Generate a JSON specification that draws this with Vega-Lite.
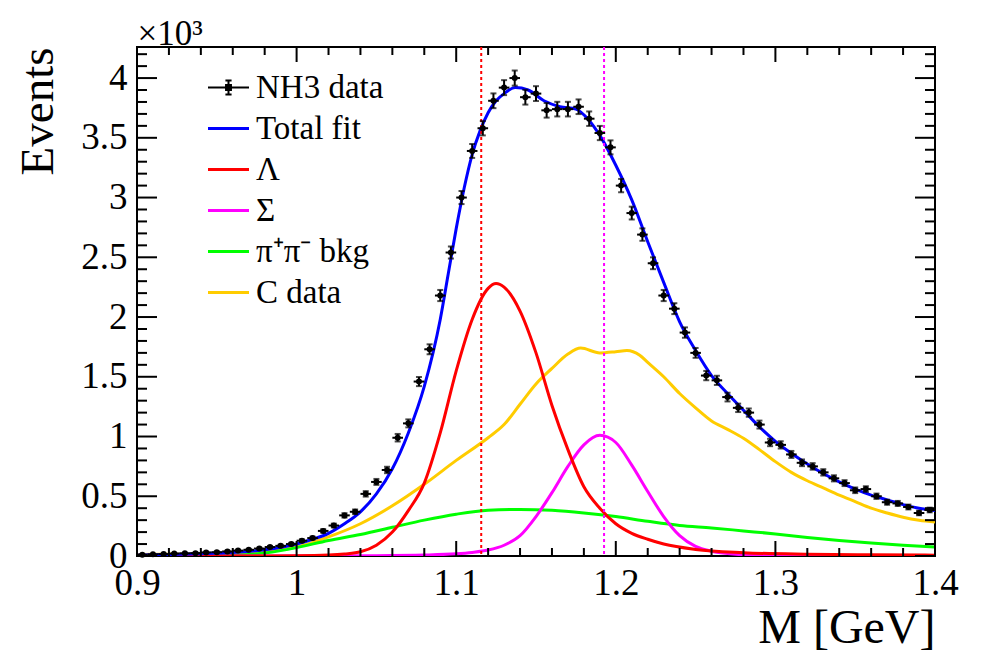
{
  "$schema": "https://vega.github.io/schema/vega-lite/v6.json",
  "width": 798,
  "height": 509,
  "autosize": {"type": "none"},
  "padding": {"left": 137, "top": 47, "right": 49, "bottom": 95},
  "background": "white",
  "config": {
    "font": "Liberation Serif",
    "view": {"stroke": "black", "strokeWidth": 2},
    "axis": {"domain": false, "ticks": false, "tickSize": 0, "grid": false, "labelColor": "black", "titleColor": "black", "titleFontWeight": "normal", "labelOverlap": false, "labelFlush": false}
  },
  "datasets": {
    "xmaj": [{"t":0.9},{"t":1.0},{"t":1.1},{"t":1.2},{"t":1.3},{"t":1.4}],
    "xmin": [{"t":0.92},{"t":0.94},{"t":0.96},{"t":0.98},{"t":1.02},{"t":1.04},{"t":1.06},{"t":1.08},{"t":1.12},{"t":1.14},{"t":1.16},{"t":1.18},{"t":1.22},{"t":1.24},{"t":1.26},{"t":1.28},{"t":1.32},{"t":1.34},{"t":1.36},{"t":1.38}],
    "ymaj": [{"t":0},{"t":0.5},{"t":1},{"t":1.5},{"t":2},{"t":2.5},{"t":3},{"t":3.5},{"t":4}],
    "ymin": [{"t":0.1},{"t":0.2},{"t":0.3},{"t":0.4},{"t":0.6},{"t":0.7},{"t":0.8},{"t":0.9},{"t":1.1},{"t":1.2},{"t":1.3},{"t":1.4},{"t":1.6},{"t":1.7},{"t":1.8},{"t":1.9},{"t":2.1},{"t":2.2},{"t":2.3},{"t":2.4},{"t":2.6},{"t":2.7},{"t":2.8},{"t":2.9},{"t":3.1},{"t":3.2},{"t":3.3},{"t":3.4},{"t":3.6},{"t":3.7},{"t":3.8},{"t":3.9},{"t":4.1},{"t":4.2}],
    "pts": [
      {"m":0.90333,"v":0.010,"e":0.0032},{"m":0.91,"v":0.014,"e":0.0037},{"m":0.91667,"v":0.016,"e":0.004},{"m":0.92333,"v":0.020,"e":0.0045},
      {"m":0.93,"v":0.022,"e":0.0047},{"m":0.93667,"v":0.024,"e":0.0049},{"m":0.94333,"v":0.030,"e":0.0055},{"m":0.95,"v":0.032,"e":0.0057},
      {"m":0.95667,"v":0.038,"e":0.0062},{"m":0.96333,"v":0.045,"e":0.0067},{"m":0.97,"v":0.052,"e":0.0072},{"m":0.97667,"v":0.062,"e":0.0079},
      {"m":0.98333,"v":0.075,"e":0.0087},{"m":0.99,"v":0.085,"e":0.0092},{"m":0.99667,"v":0.100,"e":0.010},{"m":1.00333,"v":0.128,"e":0.0113},
      {"m":1.01,"v":0.150,"e":0.0122},{"m":1.01667,"v":0.210,"e":0.0145},{"m":1.02333,"v":0.255,"e":0.016},{"m":1.03,"v":0.340,"e":0.0184},
      {"m":1.03667,"v":0.370,"e":0.0192},{"m":1.04333,"v":0.520,"e":0.0228},{"m":1.05,"v":0.620,"e":0.0249},{"m":1.05667,"v":0.720,"e":0.0268},
      {"m":1.06333,"v":0.990,"e":0.0315},{"m":1.07,"v":1.110,"e":0.0333},{"m":1.07667,"v":1.460,"e":0.0382},{"m":1.08333,"v":1.730,"e":0.0416},
      {"m":1.09,"v":2.180,"e":0.0467},{"m":1.09667,"v":2.540,"e":0.0504},{"m":1.10333,"v":3.000,"e":0.0548},{"m":1.11,"v":3.390,"e":0.0582},
      {"m":1.11667,"v":3.580,"e":0.0598},{"m":1.12333,"v":3.810,"e":0.0617},{"m":1.13,"v":3.920,"e":0.0626},{"m":1.13667,"v":4.000,"e":0.0632},
      {"m":1.14333,"v":3.840,"e":0.062},{"m":1.15,"v":3.870,"e":0.0622},{"m":1.15667,"v":3.730,"e":0.0611},{"m":1.16333,"v":3.740,"e":0.0612},
      {"m":1.17,"v":3.740,"e":0.0612},{"m":1.17667,"v":3.760,"e":0.0613},{"m":1.18333,"v":3.660,"e":0.0605},{"m":1.19,"v":3.540,"e":0.0595},
      {"m":1.19667,"v":3.420,"e":0.0585},{"m":1.20333,"v":3.100,"e":0.0557},{"m":1.21,"v":2.870,"e":0.0536},{"m":1.21667,"v":2.690,"e":0.0519},
      {"m":1.22333,"v":2.450,"e":0.0495},{"m":1.23,"v":2.180,"e":0.0467},{"m":1.23667,"v":2.070,"e":0.0455},{"m":1.24333,"v":1.870,"e":0.0432},
      {"m":1.25,"v":1.700,"e":0.0412},{"m":1.25667,"v":1.510,"e":0.0389},{"m":1.26333,"v":1.470,"e":0.0383},{"m":1.27,"v":1.330,"e":0.0365},
      {"m":1.27667,"v":1.240,"e":0.0352},{"m":1.28333,"v":1.200,"e":0.0346},{"m":1.29,"v":1.100,"e":0.0332},{"m":1.29667,"v":0.950,"e":0.0308},
      {"m":1.30333,"v":0.930,"e":0.0305},{"m":1.31,"v":0.850,"e":0.0292},{"m":1.31667,"v":0.780,"e":0.0279},{"m":1.32333,"v":0.750,"e":0.0274},
      {"m":1.33,"v":0.700,"e":0.0265},{"m":1.33667,"v":0.650,"e":0.0255},{"m":1.34333,"v":0.610,"e":0.0247},{"m":1.35,"v":0.550,"e":0.0235},
      {"m":1.35667,"v":0.560,"e":0.0237},{"m":1.36333,"v":0.500,"e":0.0224},{"m":1.37,"v":0.450,"e":0.0212},{"m":1.37667,"v":0.440,"e":0.021},
      {"m":1.38333,"v":0.410,"e":0.0202},{"m":1.39,"v":0.360,"e":0.019},{"m":1.39667,"v":0.385,"e":0.0196}
    ],
    "curves": [
      {"s":"C data","m":0.90,"y":0.012},{"s":"C data","m":0.93,"y":0.016},{"s":"C data","m":0.96,"y":0.025},{"s":"C data","m":0.98,"y":0.038},
      {"s":"C data","m":1.00,"y":0.075},{"s":"C data","m":1.02,"y":0.16},{"s":"C data","m":1.04,"y":0.27},{"s":"C data","m":1.06,"y":0.42},
      {"s":"C data","m":1.08,"y":0.60},{"s":"C data","m":1.10,"y":0.80},{"s":"C data","m":1.12,"y":0.99},{"s":"C data","m":1.13,"y":1.10},
      {"s":"C data","m":1.14,"y":1.27},{"s":"C data","m":1.15,"y":1.44},{"s":"C data","m":1.16,"y":1.57},{"s":"C data","m":1.17,"y":1.69},
      {"s":"C data","m":1.178,"y":1.74},{"s":"C data","m":1.19,"y":1.70},{"s":"C data","m":1.20,"y":1.71},{"s":"C data","m":1.207,"y":1.72},
      {"s":"C data","m":1.215,"y":1.68},{"s":"C data","m":1.22,"y":1.62},{"s":"C data","m":1.23,"y":1.50},{"s":"C data","m":1.24,"y":1.36},
      {"s":"C data","m":1.25,"y":1.24},{"s":"C data","m":1.26,"y":1.13},{"s":"C data","m":1.27,"y":1.06},{"s":"C data","m":1.28,"y":0.985},
      {"s":"C data","m":1.29,"y":0.89},{"s":"C data","m":1.30,"y":0.79},{"s":"C data","m":1.31,"y":0.70},{"s":"C data","m":1.32,"y":0.63},
      {"s":"C data","m":1.33,"y":0.57},{"s":"C data","m":1.34,"y":0.51},{"s":"C data","m":1.35,"y":0.455},{"s":"C data","m":1.36,"y":0.40},
      {"s":"C data","m":1.37,"y":0.36},{"s":"C data","m":1.38,"y":0.325},{"s":"C data","m":1.39,"y":0.30},{"s":"C data","m":1.40,"y":0.285},

      {"s":"π⁺π⁻ bkg","m":0.90,"y":0.0},{"s":"π⁺π⁻ bkg","m":0.94,"y":0.002},{"s":"π⁺π⁻ bkg","m":0.96,"y":0.006},{"s":"π⁺π⁻ bkg","m":0.97,"y":0.012},
      {"s":"π⁺π⁻ bkg","m":0.98,"y":0.025},{"s":"π⁺π⁻ bkg","m":0.99,"y":0.045},{"s":"π⁺π⁻ bkg","m":1.00,"y":0.07},{"s":"π⁺π⁻ bkg","m":1.02,"y":0.13},
      {"s":"π⁺π⁻ bkg","m":1.04,"y":0.18},{"s":"π⁺π⁻ bkg","m":1.06,"y":0.24},{"s":"π⁺π⁻ bkg","m":1.08,"y":0.30},{"s":"π⁺π⁻ bkg","m":1.10,"y":0.35},
      {"s":"π⁺π⁻ bkg","m":1.12,"y":0.383},{"s":"π⁺π⁻ bkg","m":1.14,"y":0.39},{"s":"π⁺π⁻ bkg","m":1.16,"y":0.382},{"s":"π⁺π⁻ bkg","m":1.18,"y":0.36},
      {"s":"π⁺π⁻ bkg","m":1.20,"y":0.33},{"s":"π⁺π⁻ bkg","m":1.22,"y":0.29},{"s":"π⁺π⁻ bkg","m":1.24,"y":0.255},{"s":"π⁺π⁻ bkg","m":1.26,"y":0.235},
      {"s":"π⁺π⁻ bkg","m":1.28,"y":0.21},{"s":"π⁺π⁻ bkg","m":1.30,"y":0.185},{"s":"π⁺π⁻ bkg","m":1.32,"y":0.155},{"s":"π⁺π⁻ bkg","m":1.34,"y":0.13},
      {"s":"π⁺π⁻ bkg","m":1.36,"y":0.108},{"s":"π⁺π⁻ bkg","m":1.38,"y":0.09},{"s":"π⁺π⁻ bkg","m":1.40,"y":0.075},

      {"s":"Σ","m":0.90,"y":0.0},{"s":"Σ","m":1.00,"y":0.001},{"s":"Σ","m":1.05,"y":0.003},{"s":"Σ","m":1.08,"y":0.008},
      {"s":"Σ","m":1.10,"y":0.018},{"s":"Σ","m":1.11,"y":0.03},{"s":"Σ","m":1.12,"y":0.05},{"s":"Σ","m":1.13,"y":0.09},
      {"s":"Σ","m":1.14,"y":0.17},{"s":"Σ","m":1.15,"y":0.33},{"s":"Σ","m":1.16,"y":0.53},{"s":"Σ","m":1.17,"y":0.75},
      {"s":"Σ","m":1.18,"y":0.93},{"s":"Σ","m":1.19,"y":1.01},{"s":"Σ","m":1.20,"y":0.95},{"s":"Σ","m":1.21,"y":0.76},
      {"s":"Σ","m":1.22,"y":0.54},{"s":"Σ","m":1.23,"y":0.33},{"s":"Σ","m":1.24,"y":0.17},{"s":"Σ","m":1.25,"y":0.08},
      {"s":"Σ","m":1.26,"y":0.04},{"s":"Σ","m":1.27,"y":0.02},{"s":"Σ","m":1.29,"y":0.006},{"s":"Σ","m":1.32,"y":0.002},{"s":"Σ","m":1.40,"y":0.0},

      {"s":"Λ","m":0.90,"y":0.0},{"s":"Λ","m":0.98,"y":0.001},{"s":"Λ","m":1.00,"y":0.002},{"s":"Λ","m":1.02,"y":0.008},
      {"s":"Λ","m":1.03,"y":0.017},{"s":"Λ","m":1.04,"y":0.035},{"s":"Λ","m":1.05,"y":0.09},{"s":"Λ","m":1.06,"y":0.20},
      {"s":"Λ","m":1.07,"y":0.38},{"s":"Λ","m":1.08,"y":0.61},{"s":"Λ","m":1.09,"y":1.03},{"s":"Λ","m":1.10,"y":1.55},
      {"s":"Λ","m":1.11,"y":1.98},{"s":"Λ","m":1.12,"y":2.24},{"s":"Λ","m":1.125,"y":2.28},{"s":"Λ","m":1.13,"y":2.25},
      {"s":"Λ","m":1.14,"y":2.05},{"s":"Λ","m":1.15,"y":1.70},{"s":"Λ","m":1.16,"y":1.26},{"s":"Λ","m":1.17,"y":0.89},
      {"s":"Λ","m":1.18,"y":0.58},{"s":"Λ","m":1.19,"y":0.40},{"s":"Λ","m":1.20,"y":0.27},{"s":"Λ","m":1.21,"y":0.19},
      {"s":"Λ","m":1.22,"y":0.14},{"s":"Λ","m":1.23,"y":0.10},{"s":"Λ","m":1.25,"y":0.055},{"s":"Λ","m":1.28,"y":0.028},
      {"s":"Λ","m":1.32,"y":0.015},{"s":"Λ","m":1.36,"y":0.01},{"s":"Λ","m":1.40,"y":0.007},

      {"s":"Total fit","m":0.90,"y":0.008},{"s":"Total fit","m":0.92,"y":0.012},{"s":"Total fit","m":0.94,"y":0.019},{"s":"Total fit","m":0.96,"y":0.03},
      {"s":"Total fit","m":0.98,"y":0.052},{"s":"Total fit","m":1.00,"y":0.10},{"s":"Total fit","m":1.01,"y":0.14},{"s":"Total fit","m":1.02,"y":0.19},
      {"s":"Total fit","m":1.03,"y":0.27},{"s":"Total fit","m":1.04,"y":0.37},{"s":"Total fit","m":1.05,"y":0.52},{"s":"Total fit","m":1.06,"y":0.73},
      {"s":"Total fit","m":1.07,"y":1.03},{"s":"Total fit","m":1.08,"y":1.42},{"s":"Total fit","m":1.09,"y":1.98},{"s":"Total fit","m":1.095,"y":2.36},
      {"s":"Total fit","m":1.10,"y":2.74},{"s":"Total fit","m":1.105,"y":3.08},{"s":"Total fit","m":1.11,"y":3.36},{"s":"Total fit","m":1.115,"y":3.56},
      {"s":"Total fit","m":1.12,"y":3.71},{"s":"Total fit","m":1.125,"y":3.81},{"s":"Total fit","m":1.13,"y":3.87},{"s":"Total fit","m":1.137,"y":3.92},
      {"s":"Total fit","m":1.145,"y":3.90},{"s":"Total fit","m":1.155,"y":3.81},{"s":"Total fit","m":1.165,"y":3.76},{"s":"Total fit","m":1.175,"y":3.74},
      {"s":"Total fit","m":1.183,"y":3.65},{"s":"Total fit","m":1.19,"y":3.52},{"s":"Total fit","m":1.20,"y":3.27},{"s":"Total fit","m":1.21,"y":2.98},
      {"s":"Total fit","m":1.22,"y":2.63},{"s":"Total fit","m":1.23,"y":2.29},{"s":"Total fit","m":1.24,"y":1.96},{"s":"Total fit","m":1.25,"y":1.72},
      {"s":"Total fit","m":1.26,"y":1.51},{"s":"Total fit","m":1.27,"y":1.36},{"s":"Total fit","m":1.28,"y":1.22},{"s":"Total fit","m":1.29,"y":1.08},
      {"s":"Total fit","m":1.30,"y":0.96},{"s":"Total fit","m":1.31,"y":0.86},{"s":"Total fit","m":1.32,"y":0.77},{"s":"Total fit","m":1.33,"y":0.69},
      {"s":"Total fit","m":1.34,"y":0.62},{"s":"Total fit","m":1.35,"y":0.56},{"s":"Total fit","m":1.36,"y":0.51},{"s":"Total fit","m":1.37,"y":0.47},
      {"s":"Total fit","m":1.38,"y":0.43},{"s":"Total fit","m":1.39,"y":0.40},{"s":"Total fit","m":1.40,"y":0.38}
    ],
    "masses": [
      {"mass": 1.11568, "c": "#ff0000"},
      {"mass": 1.19264, "c": "#ff00ff"}
    ]
  },
  "resolve": {"axis": {"x": "independent", "y": "independent"}},
  "layer": [
    {
      "data": {"name": "curves"},
      "mark": {"type": "line", "strokeWidth": 3, "interpolate": "monotone", "clip": true},
      "encoding": {
        "x": {"field": "m", "type": "quantitative",
          "scale": {"domain": [0.9, 1.4], "nice": false, "zero": false},
          "axis": {
            "orient": "bottom",
            "values": [0.9, 1.0, 1.1, 1.2, 1.3, 1.4],
            "labelExpr": "toString(round(datum.value*10)/10)",
            "labelFontSize": 37, "labelPadding": 9,
            "title": "M [GeV]", "titleFontSize": 48, "titleAnchor": "end", "titlePadding": 3
          }
        },
        "y": {"field": "y", "type": "quantitative",
          "scale": {"domain": [0, 4.26], "nice": false},
          "axis": {
            "orient": "left",
            "values": [0, 0.5, 1, 1.5, 2, 2.5, 3, 3.5, 4],
            "labelExpr": "toString(round(datum.value*2)/2)",
            "labelFontSize": 37, "labelPadding": 10,
            "title": "Events", "titleFontSize": 47, "titleAnchor": "end", "titlePadding": 18
          }
        },
        "color": {"field": "s", "type": "nominal",
          "scale": {"domain": ["NH3 data", "Total fit", "Λ", "Σ", "π⁺π⁻ bkg", "C data"],
                    "range": ["#000000", "#0000ff", "#ff0000", "#ff00ff", "#00ff00", "#ffcc00"]},
          "legend": {
            "orient": "none", "legendX": 75, "legendY": 24, "title": null,
            "symbolSize": 1681, "symbolStrokeWidth": 3, "symbolType": "stroke",
            "labelFontSize": 33, "labelFont": "Liberation Serif", "labelColor": "black", "labelOffset": 11, "rowPadding": 7, "labelLimit": 400,
            "encode": {"symbols": {"update": {
              "shape": {"signal": "datum.value === 'NH3 data' ? 'M-1,0L1,0M0,-0.34L0,0.34M-0.15,-0.34L0.15,-0.34M-0.15,0.34L0.15,0.34M-0.12,-0.12L0.12,-0.12L0.12,0.12L-0.12,0.12Z' : 'stroke'"},
              "fill": {"signal": "datum.value === 'NH3 data' ? '#000000' : 'transparent'"},
              "strokeWidth": {"signal": "datum.value === 'NH3 data' ? 2 : 3"}
            }}}
          }
        }
      }
    },
    {
      "data": {"name": "masses"},
      "mark": {"type": "rule", "strokeWidth": 2, "strokeDash": [3, 3]},
      "encoding": {
        "x": {"field": "mass", "type": "quantitative",
          "scale": {"domain": [0.9, 1.4], "nice": false, "zero": false},
          "axis": {
            "orient": "top", "values": [], "labels": false,
            "title": "×10³", "titleFontSize": 35, "titleAnchor": "start", "titleAlign": "left", "titleBaseline": "bottom", "titlePadding": -4
          }
        },
        "color": {"field": "c", "type": "nominal", "scale": null}
      }
    },
    {
      "data": {"name": "xmaj"},
      "mark": {"type": "rule", "strokeWidth": 2, "color": "black"},
      "encoding": {"x": {"field": "t", "type": "quantitative", "axis": null}, "y": {"datum": 0, "type": "quantitative", "axis": null}, "y2": {"datum": 0.1255}}
    },
    {
      "data": {"name": "xmaj"},
      "mark": {"type": "rule", "strokeWidth": 2, "color": "black"},
      "encoding": {"x": {"field": "t", "type": "quantitative", "axis": null}, "y": {"datum": 4.26, "type": "quantitative", "axis": null}, "y2": {"datum": 4.1345}}
    },
    {
      "data": {"name": "xmin"},
      "mark": {"type": "rule", "strokeWidth": 2, "color": "black"},
      "encoding": {"x": {"field": "t", "type": "quantitative", "axis": null}, "y": {"datum": 0, "type": "quantitative", "axis": null}, "y2": {"datum": 0.067}}
    },
    {
      "data": {"name": "xmin"},
      "mark": {"type": "rule", "strokeWidth": 2, "color": "black"},
      "encoding": {"x": {"field": "t", "type": "quantitative", "axis": null}, "y": {"datum": 4.26, "type": "quantitative", "axis": null}, "y2": {"datum": 4.193}}
    },
    {
      "data": {"name": "ymaj"},
      "mark": {"type": "rule", "strokeWidth": 2, "color": "black"},
      "encoding": {"y": {"field": "t", "type": "quantitative", "axis": null}, "x": {"datum": 0.9, "type": "quantitative", "axis": null}, "x2": {"datum": 0.91253}}
    },
    {
      "data": {"name": "ymaj"},
      "mark": {"type": "rule", "strokeWidth": 2, "color": "black"},
      "encoding": {"y": {"field": "t", "type": "quantitative", "axis": null}, "x": {"datum": 1.4, "type": "quantitative", "axis": null}, "x2": {"datum": 1.38747}}
    },
    {
      "data": {"name": "ymin"},
      "mark": {"type": "rule", "strokeWidth": 2, "color": "black"},
      "encoding": {"y": {"field": "t", "type": "quantitative", "axis": null}, "x": {"datum": 0.9, "type": "quantitative", "axis": null}, "x2": {"datum": 0.90627}}
    },
    {
      "data": {"name": "ymin"},
      "mark": {"type": "rule", "strokeWidth": 2, "color": "black"},
      "encoding": {"y": {"field": "t", "type": "quantitative", "axis": null}, "x": {"datum": 1.4, "type": "quantitative", "axis": null}, "x2": {"datum": 1.39373}}
    },
    {
      "data": {"name": "pts"},
      "mark": {"type": "errorbar", "ticks": {"size": 6, "thickness": 2, "color": "black"}, "thickness": 2, "color": "black"},
      "encoding": {
        "x": {"field": "m", "type": "quantitative", "axis": null},
        "y": {"field": "v", "type": "quantitative", "axis": null},
        "yError": {"field": "e"}
      }
    },
    {
      "data": {"name": "pts"},
      "mark": {"type": "tick", "orient": "horizontal", "size": 10.6, "thickness": 2, "color": "black", "opacity": 1},
      "encoding": {
        "x": {"field": "m", "type": "quantitative", "axis": null},
        "y": {"field": "v", "type": "quantitative", "axis": null}
      }
    },
    {
      "data": {"name": "pts"},
      "mark": {"type": "point", "filled": true, "size": 36, "opacity": 1},
      "encoding": {
        "x": {"field": "m", "type": "quantitative", "axis": null},
        "y": {"field": "v", "type": "quantitative", "axis": null},
        "color": {"datum": "NH3 data"}
      }
    }
  ]
}
